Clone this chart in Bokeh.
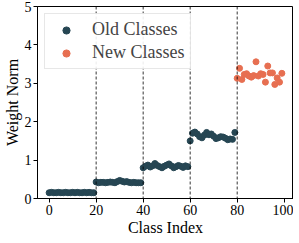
from bokeh.plotting import figure
from bokeh.models import Span, Range1d, FixedTicker, Legend, LegendItem
from bokeh.embed import file_html
from bokeh.resources import INLINE

old_x = list(range(0, 80))
old_y = [0.15, 0.16, 0.15, 0.15, 0.16, 0.15, 0.15, 0.16, 0.15, 0.15,
         0.16, 0.15, 0.16, 0.15, 0.15, 0.16, 0.15, 0.16, 0.15, 0.15,
         0.43, 0.41, 0.42, 0.42, 0.41, 0.42, 0.43, 0.42, 0.41, 0.44,
         0.47, 0.45, 0.43, 0.44, 0.42, 0.41, 0.42, 0.41, 0.41, 0.41,
         0.80, 0.84, 0.87, 0.82, 0.85, 0.91, 0.86, 0.83, 0.80, 0.84,
         0.87, 0.90, 0.85, 0.80, 0.83, 0.86, 0.84, 0.81, 0.85, 0.83,
         1.50, 1.70, 1.73, 1.68, 1.61, 1.58, 1.65, 1.72, 1.66, 1.68,
         1.62, 1.56, 1.58, 1.61, 1.60, 1.57, 1.53, 1.55, 1.54, 1.72]
new_x = list(range(80, 100))
new_y = [3.13, 3.39, 3.10, 3.23, 3.25, 3.19, 3.16, 3.20, 3.56, 3.19,
         3.25, 3.23, 3.03, 3.45, 3.27, 3.27, 2.97, 3.14, 3.03, 3.26]
task_bounds = [20, 40, 60, 80]
x_ticks = [0, 20, 40, 60, 80, 100]
y_ticks = [0, 1, 2, 3, 4, 5]

FONT = "Liberation Serif"

p = figure(frame_width=256, frame_height=192, output_backend="svg", toolbar_location=None,
           x_range=Range1d(-4.95, 103.95), y_range=Range1d(0, 5),
           min_border_left=1, min_border_right=0, min_border_top=6, min_border_bottom=0)
p.xgrid.visible = False
p.ygrid.visible = False
p.outline_line_color = "black"
p.outline_line_width = 1
p.background_fill_color = "white"
p.border_fill_color = "white"

for b in task_bounds:
    p.add_layout(Span(location=b, dimension="height", line_color="black",
                      line_dash="3 2", line_width=0.8))

r1 = p.scatter(old_x, old_y, size=6, color="#264653")
r2 = p.scatter(new_x, new_y, size=6, color="#e76f51")

legend = Legend(items=[LegendItem(label="Old Classes", renderers=[r1]),
                       LegendItem(label="New Classes", renderers=[r2])],
                location="top_left")
legend.label_text_font = FONT
legend.label_text_font_size = "18px"
legend.border_line_color = "#d0d0d0"
legend.border_line_width = 1
legend.background_fill_alpha = 0.9
legend.glyph_width = 32
legend.glyph_height = 18
legend.spacing = 2
legend.padding = 5
legend.margin = 7
legend.label_standoff = 10
p.add_layout(legend)

for ax in (p.xaxis[0], p.yaxis[0]):
    ax.major_label_text_font = FONT
    ax.major_label_text_font_size = "14px"
    ax.axis_label_text_font = FONT
    ax.axis_label_text_font_size = "16px"
    ax.axis_label_text_font_style = "normal"
    ax.minor_tick_line_color = None
    ax.major_tick_in = 0
    ax.major_tick_out = 4
    ax.axis_line_color = "black"
    ax.major_tick_line_color = "black"
    ax.major_label_text_color = "black"
    ax.axis_label_text_color = "black"
    ax.axis_label_standoff = 1
    ax.major_label_standoff = 2

p.xaxis[0].ticker = FixedTicker(ticks=x_ticks)
p.yaxis[0].ticker = FixedTicker(ticks=y_ticks)
p.xaxis[0].axis_label = "Class Index"
p.yaxis[0].axis_label = "Weight Norm"

open("out.html", "w").write(file_html(p, INLINE))
